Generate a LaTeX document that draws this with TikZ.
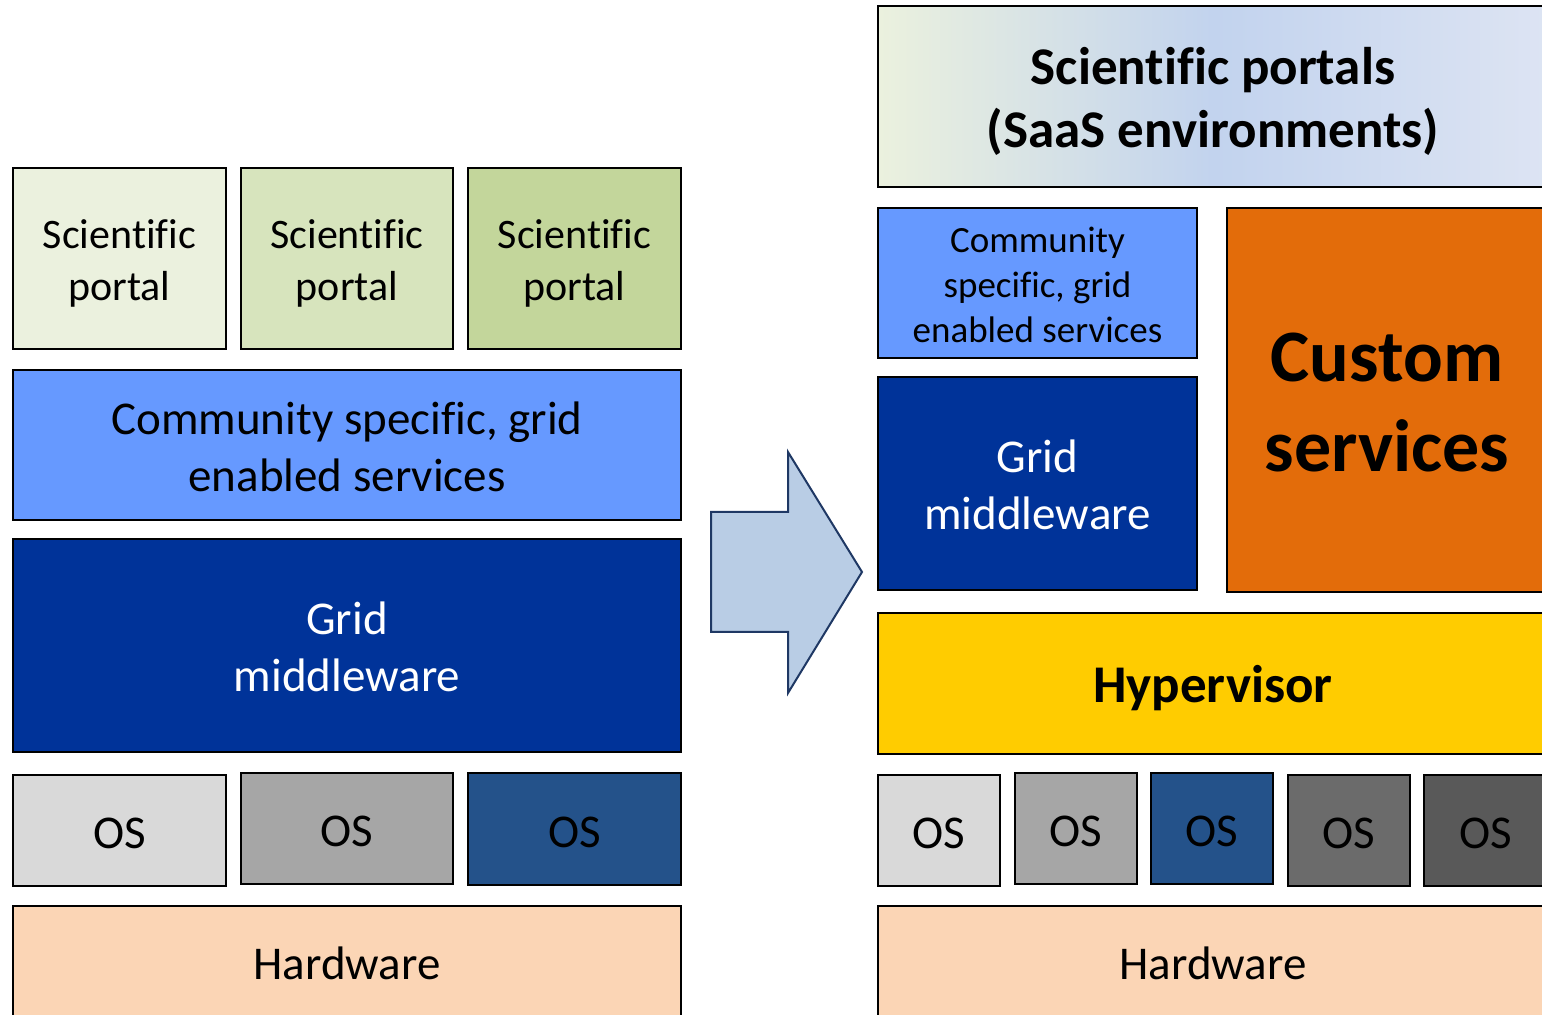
\documentclass[tikz,border=0pt]{standalone}
\usepackage{fontspec}
\setmainfont{Carlito}[Ligatures=NoCommon]
\usetikzlibrary{shadings}
\definecolor{portalA}{HTML}{EBF1DE}
\definecolor{portalB}{HTML}{D7E4BD}
\definecolor{portalC}{HTML}{C3D69B}
\definecolor{commblue}{HTML}{6699FF}
\definecolor{gridblue}{HTML}{003399}
\definecolor{osA}{HTML}{D9D9D9}
\definecolor{osB}{HTML}{A6A6A6}
\definecolor{osC}{HTML}{24528A}
\definecolor{osD}{HTML}{6B6B6B}
\definecolor{osE}{HTML}{595959}
\definecolor{hwpeach}{HTML}{FBD5B5}
\definecolor{custorange}{HTML}{E36C0A}
\definecolor{hypyellow}{HTML}{FFCC00}
\definecolor{arrowfill}{HTML}{B9CDE5}
\definecolor{arrowline}{HTML}{1F3864}
\definecolor{gradL}{HTML}{EBF1DE}
\definecolor{gradM}{HTML}{C2D3EE}
\definecolor{gradR}{HTML}{DDE4F3}
\pgfdeclarehorizontalshading{portalshade}{100bp}{color(0bp)=(gradL); color(25bp)=(gradL); color(50bp)=(gradM); color(75bp)=(gradR); color(100bp)=(gradR)}
\tikzset{
  layer/.style={draw=black, line width=1pt, inner sep=0pt},
  label text/.style={inner sep=0pt, align=center},
  normtext/.style={font=\fontsize{23.5}{28.5}\selectfont},
  portaltext/.style={font=\fontsize{21}{26}\selectfont},
  boldbig/.style={font=\bfseries\fontsize{26.5}{31.5}\selectfont},
}
% name, x1, y1, x2, y2, box style, text style, text shift (px), text
\newcommand{\boxat}[9]{%
  \node[layer, #6, minimum width={(#4-#2)*0.5pt}, minimum height={(#5-#3)*0.5pt}] (#1) at ({(#2+#4)/2},{(#3+#5)/2}) {};
  \node[label text, #7, yshift={-#8*0.5pt}] (#1-text) at (#1.center) {#9};}
\begin{document}
\begin{tikzpicture}[x=0.5pt,y=-0.5pt]
\useasboundingbox (0,0) rectangle (1542,1015);
\clip (0,0) rectangle (1542,1015);
% ---- left stack ----
\boxat{lp1}{13}{168}{226}{349}{fill=portalA}{portaltext}{5}{Scientific\\portal}
\boxat{lp2}{241}{168}{453}{349}{fill=portalB}{portaltext}{5}{Scientific\\portal}
\boxat{lp3}{468}{168}{681}{349}{fill=portalC}{portaltext}{5}{Scientific\\portal}
\boxat{lcomm}{13}{370}{681}{520}{fill=commblue}{normtext}{2}{Community specific, grid\\enabled services}
\boxat{lgrid}{13}{539}{681}{752}{fill=gridblue}{normtext, text=white}{1}{Grid\\middleware}
\boxat{los1}{13}{775}{226}{886}{fill=osA}{normtext}{3}{OS}
\boxat{los2}{241}{773}{453}{884}{fill=osB}{normtext}{3}{OS}
\boxat{los3}{468}{773}{681}{885}{fill=osC}{normtext}{3}{OS}
\boxat{lhw}{13}{906}{681}{1020}{fill=hwpeach}{normtext}{0}{Hardware}
% ---- arrow ----
\coordinate (a1) at (711,512);
\coordinate (a2) at (788,512);
\coordinate (a3) at (788,452);
\coordinate (a4) at (862,572);
\coordinate (a5) at (788,693);
\coordinate (a6) at (788,632);
\coordinate (a7) at (711,632);
\draw[fill=arrowfill, draw=arrowline, line width=1pt, line join=miter] (a1) -- (a2) -- (a3) -- (a4) -- (a5) -- (a6) -- (a7) -- cycle;
% ---- right stack ----
\boxat{rport}{878}{6}{1548}{187}{shading=portalshade}{boldbig}{5}{Scientific portals\\(SaaS environments)}
\boxat{rcomm}{878}{208}{1197}{358}{fill=commblue}{font=\fontsize{18.5}{22.5}\selectfont}{2}{Community\\specific, grid\\enabled services}
\boxat{rgrid}{878}{377}{1197}{590}{fill=gridblue}{normtext, text=white}{1}{Grid\\middleware}
\boxat{rcust}{1227}{208}{1547}{592}{fill=custorange}{font=\bfseries\fontsize{37}{45}\selectfont}{3}{Custom\\services}
\boxat{rhyp}{878}{613}{1548}{754}{fill=hypyellow}{boldbig}{5}{Hypervisor}
\boxat{ros1}{878}{775}{1000}{886}{fill=osA}{normtext}{3}{OS}
\boxat{ros2}{1015}{773}{1137}{884}{fill=osB}{normtext}{3}{OS}
\boxat{ros3}{1151}{773}{1273}{884}{fill=osC}{normtext}{3}{OS}
\boxat{ros4}{1288}{775}{1410}{886}{fill=osD}{normtext}{3}{OS}
\boxat{ros5}{1424}{775}{1548}{886}{fill=osE}{normtext}{3}{OS}
\boxat{rhw}{878}{906}{1548}{1020}{fill=hwpeach}{normtext}{0}{Hardware}
\end{tikzpicture}
\end{document}
